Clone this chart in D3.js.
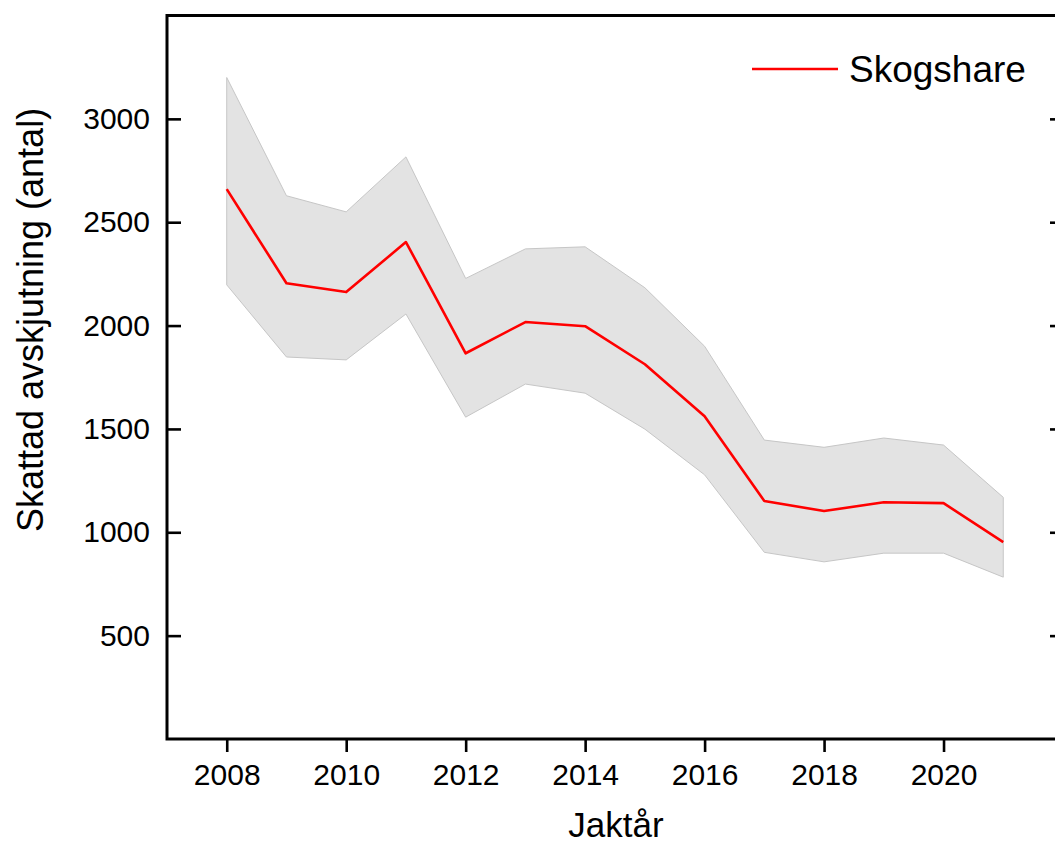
<!DOCTYPE html>
<html><head><meta charset="utf-8">
<script src="https://cdn.jsdelivr.net/npm/d3@7"></script>
<style>body{margin:0;background:#fff}svg{display:block}text{font-family:"Liberation Sans",Arial,sans-serif;fill:#000}</style>
</head><body>
<svg id="c" width="1055" height="845"></svg>
<script>
const years = [2008,2009,2010,2011,2012,2013,2014,2015,2016,2017,2018,2019,2020,2021];
const mean  = [2660,2205,2162,2404,1866,2017,1997,1813,1561,1151,1103,1145,1141,952];
const upper = [3200,2628,2550,2816,2228,2371,2381,2183,1900,1446,1411,1456,1422,1169];
const lower = [2197,1848,1834,2056,1557,1717,1673,1499,1278,903,857,899,899,783];
const xTicks = [2008,2010,2012,2014,2016,2018,2020];
const yTicks = [500,1000,1500,2000,2500,3000];
const seriesName = "Skogshare";

const svg = d3.select("#c");
const L=167, R=1063, T=15.5, B=739;
const x = d3.scaleLinear().domain([2007,2022]).range([L,R]);
const y = d3.scaleLinear().domain([0,3500]).range([B,T]);
const data = years.map((yr,i)=>({yr, m:mean[i], u:upper[i], l:lower[i]}));

svg.append("path").datum(data)
  .attr("d", d3.area().x(d=>x(d.yr)).y0(d=>y(d.l)).y1(d=>y(d.u)))
  .attr("fill","#e3e3e3").attr("stroke","#c6c6c6").attr("stroke-width",1);

svg.append("path").datum(data)
  .attr("d", d3.line().x(d=>x(d.yr)).y(d=>y(d.m)))
  .attr("fill","none").attr("stroke","#ff0000").attr("stroke-width",2.6).attr("stroke-linejoin","round");

// axes
const font = "30px";
const gx = svg.append("g").attr("transform",`translate(0,${B})`)
  .call(d3.axisBottom(x).tickValues(xTicks).tickFormat(d3.format("d")).tickSize(13).tickPadding(12));
gx.selectAll("text").style("font-size",font);
const gy = svg.append("g").attr("transform",`translate(${L},0)`)
  .call(d3.axisLeft(y).tickValues(yTicks).tickFormat(d3.format("d")).tickSize(-14).tickPadding(17));
gy.selectAll("text").style("font-size",font);
const gr = svg.append("g").attr("transform",`translate(${R},0)`)
  .call(d3.axisRight(y).tickValues(yTicks).tickFormat("").tickSize(-13));
[gx,gy,gr].forEach(g=>{g.select(".domain").remove();g.selectAll("line").attr("stroke","#000").attr("stroke-width",2.6);});

// box
svg.append("rect").attr("x",L).attr("y",T).attr("width",R-L).attr("height",B-T)
  .attr("fill","none").attr("stroke","#000").attr("stroke-width",3);

// titles
svg.append("text").attr("x",616).attr("y",837).attr("text-anchor","middle")
  .style("font-size","35px").text("Jaktår");
svg.append("text").attr("transform","translate(43,320) rotate(-90)").attr("text-anchor","middle")
  .style("font-size","36px").text("Skattad avskjutning (antal)");

// legend
svg.append("line").attr("x1",752).attr("x2",838).attr("y1",69).attr("y2",69)
  .attr("stroke","#ff0000").attr("stroke-width",2.6);
svg.append("text").attr("x",849).attr("y",82).style("font-size","37px").text(seriesName);
</script>
</body></html>
